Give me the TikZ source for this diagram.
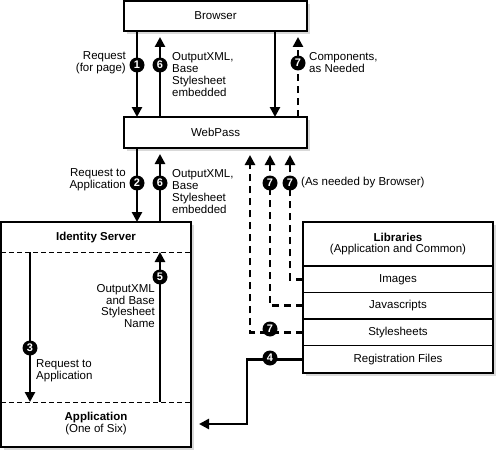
\documentclass[tikz,border=0pt]{standalone}
\usepackage{fontspec}
\setmainfont{Liberation Sans}
\usetikzlibrary{positioning,arrows.meta,shadows,fit,backgrounds}

\begin{document}
\begin{tikzpicture}[
  x=1pt, y=-1pt,
  font=\fontsize{11.5}{11.8}\selectfont,
  box/.style={rectangle, draw, line width=1.3pt, fill=white, inner sep=0pt, outer sep=0pt,
              minimum width=#1,
              drop shadow={shadow xshift=3pt, shadow yshift=-3pt, opacity=1, fill=black!15}},
  librow/.style={rectangle, draw, line width=1.3pt, fill=white, inner sep=0pt, outer sep=0pt,
                 minimum width=190pt, minimum height=#1, align=center},
  arr/.style={line width=2.9pt, -{Triangle[length=10pt,width=10pt]}},
  dasharr/.style={arr, dash pattern=on 7pt off 5pt},
  sepline/.style={line width=1pt, dash pattern=on 5pt off 3pt},
  num/.style={circle, fill=black, text=white, font=\fontsize{11}{11}\selectfont\bfseries,
              inner sep=0pt, minimum size=15pt},
  lb/.style={inner sep=0pt, align=#1}
]
\useasboundingbox (0,0) rectangle (498,452);

\node[box=183pt, minimum height=30pt] (browser) at (215.5,16) {Browser};
\node[box=183pt, minimum height=31pt] (webpass) at (215.5,132.5) {WebPass};
\node[box=190pt, minimum height=225pt] (idsrv) at (96,334.5) {};

\node[librow=44pt] (lib) at (398,244) {\textbf{Libraries}\\(Application and Common)};
\node[librow=26.5pt, below=0pt of lib] (img) {Images};
\node[librow=26.5pt, below=0pt of img] (js)  {Javascripts};
\node[librow=26.5pt, below=0pt of js]  (css) {Stylesheets};
\node[librow=27.5pt, below=0pt of css] (reg) {Registration Files};
\begin{scope}[on background layer]
  \node[fit=(lib)(reg), inner sep=0pt, fill=white,
        drop shadow={shadow xshift=3pt, shadow yshift=-3pt, opacity=1, fill=black!15}] (libs) {};
\end{scope}

\coordinate (xa) at (137,0);
\coordinate (xb) at (160,0);
\coordinate (xc) at (275,0);
\coordinate (xd) at (298,0);
\coordinate (xe) at (250,0);
\coordinate (xf) at (270,0);
\coordinate (xg) at (290,0);
\coordinate (xh) at (247,0);
\coordinate (x3) at (30,0);
\coordinate (istop) at (0,252);
\coordinate (isbot) at (0,402);
\coordinate (appl) at (0,424);

\draw[sepline] (idsrv.west |- istop) -- (idsrv.east |- istop);
\draw[sepline] (idsrv.west |- isbot) -- (idsrv.east |- isbot);
\node[font=\fontsize{11.5}{11.8}\selectfont\bfseries] (idtitle) at (96,238) {Identity Server};
\node[lb=center] (apptitle) at (96,423.5) {\textbf{Application}\\(One of Six)};

\draw[arr] (browser.south -| xa) -- (webpass.north -| xa);
\draw[arr, shorten >=6pt] (webpass.north -| xb) -- (browser.south -| xb);
\draw[arr] (browser.south -| xc) -- (webpass.north -| xc);
\draw[dasharr, shorten >=6pt] (webpass.north -| xd) -- (browser.south -| xd);

\draw[arr] (webpass.south -| xa) -- (idsrv.north -| xa);
\draw[arr, shorten >=6pt] (idsrv.north -| xb) -- (webpass.south -| xb);

\draw[dasharr, shorten >=7pt] (css.west) -| (webpass.south -| xe);
\draw[dasharr, shorten >=7pt] (js.west) -| (webpass.south -| xf);
\draw[dasharr, shorten >=7pt] (img.west) -| (webpass.south -| xg);

\draw[arr, shorten >=8pt] (reg.west) -- (reg.west -| xh) |- (idsrv.east |- appl);

\draw[arr] (istop -| x3) -- (isbot -| x3);
\draw[arr] (isbot -| xb) -- (istop -| xb);

\node[num] (n1)  at (137,65)  {1};
\node[num] (n6a) at (160,65)  {6};
\node[num] (n7a) at (298,63)  {7};
\node[num] (n2)  at (137,183) {2};
\node[num] (n6b) at (160,183) {6};
\node[num] (n7b) at (270,183) {7};
\node[num] (n7c) at (290,183) {7};
\node[num] (n5)  at (160,277) {5};
\node[num] (n3)  at (30,348)  {3};
\node[num] (n7d) at (270,329) {7};
\node[num] (n4)  at (270,358) {4};

\node[lb=right, anchor=east] at (126,62.5) {Request\\(for page)};
\node[lb=left, anchor=west] at (172,74.5) {OutputXML,\\Base\\Stylesheet\\embedded};
\node[lb=left, anchor=west] at (309,62.5) {Components,\\as Needed};
\node[lb=right, anchor=east] at (126,179.5) {Request to\\Application};
\node[lb=left, anchor=west] at (172,191.5) {OutputXML,\\Base\\Stylesheet\\embedded};
\node[lb=left, anchor=west] at (301,183) {(As needed by Browser)};
\node[lb=right, anchor=east] at (155,306) {OutputXML\\and Base\\Stylesheet\\Name};
\node[lb=left, anchor=west] at (36,371) {Request to\\Application};

\end{tikzpicture}
\end{document}
